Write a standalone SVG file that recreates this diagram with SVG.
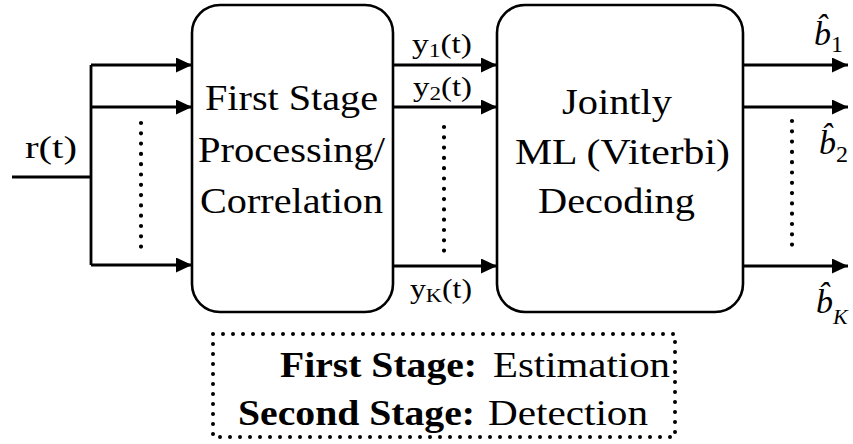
<svg xmlns="http://www.w3.org/2000/svg" width="853" height="444" viewBox="0 0 853 444">
  <style>
    .box { fill: #fff; stroke: #000; stroke-width: 2.6; }
    .wire { fill: none; stroke: #000; stroke-width: 2.8; }
    .dots { fill: none; stroke: #000; stroke-width: 4.2; stroke-linecap: round; stroke-dasharray: 0 10.3; }
    .frame { fill: none; stroke: #000; stroke-width: 4; stroke-linecap: round; stroke-dasharray: 0 10; }
    text { font-family: "Liberation Serif", "Times New Roman", Times, Tinos, "Nimbus Roman", "Nimbus Roman No9 L", FreeSerif, "Noto Serif", "DejaVu Serif", serif; fill: #000; }
    .big { font-size: 35px; }
    .sig { font-size: 27px; }
    .sub { font-size: 19px; }
    .bold { font-weight: bold; }
    .ital { font-style: italic; }
  </style>
  <defs>
    <marker id="arrow" viewBox="0 0 16 15" refX="16" refY="7.5" markerWidth="16" markerHeight="15" markerUnits="userSpaceOnUse" orient="auto">
      <path d="M0,0 L16,7.5 L0,15 Z" fill="#000"/>
    </marker>
  </defs>

  <!-- connectors -->
  <g id="connectors">
    <path class="wire" d="M12,177 H91 M91,65 V265"/>
    <path class="wire" d="M91,65 H192" marker-end="url(#arrow)"/>
    <path class="wire" d="M91,107 H192" marker-end="url(#arrow)"/>
    <path class="wire" d="M91,265 H192" marker-end="url(#arrow)"/>
    <path class="wire" d="M393,65 H497" marker-end="url(#arrow)"/>
    <path class="wire" d="M393,107 H497" marker-end="url(#arrow)"/>
    <path class="wire" d="M393,266 H497" marker-end="url(#arrow)"/>
    <path class="wire" d="M743,65 H848" marker-end="url(#arrow)"/>
    <path class="wire" d="M743,107 H848" marker-end="url(#arrow)"/>
    <path class="wire" d="M743,266 H848" marker-end="url(#arrow)"/>
    <path class="dots" d="M141,123 V247"/>
    <path class="dots" d="M444,127 V251"/>
    <path class="dots" d="M792,121 V245"/>
  </g>

  <!-- input signal -->
  <g id="input">
    <text x="25" y="158" textLength="52" lengthAdjust="spacingAndGlyphs" style="font-size:32px">r(t)</text>
  </g>

  <!-- first stage block -->
  <g id="first-stage">
    <rect class="box" x="192" y="5" width="201" height="307" rx="28" ry="28"/>
    <text class="big" x="205" y="110" textLength="173" lengthAdjust="spacingAndGlyphs">First Stage</text>
    <text class="big" x="198" y="162" textLength="187" lengthAdjust="spacingAndGlyphs">Processing/</text>
    <text class="big" x="200" y="213" textLength="183" lengthAdjust="spacingAndGlyphs">Correlation</text>
  </g>

  <!-- correlator outputs -->
  <g id="outputs-y">
    <text class="sig" x="412" y="53" textLength="60" lengthAdjust="spacingAndGlyphs">y<tspan class="sub" dy="4">1</tspan><tspan dy="-4">(t)</tspan></text>
    <text class="sig" x="413" y="96" textLength="59" lengthAdjust="spacingAndGlyphs">y<tspan class="sub" dy="4">2</tspan><tspan dy="-4">(t)</tspan></text>
    <text class="sig" x="410" y="298" textLength="62" lengthAdjust="spacingAndGlyphs">y<tspan class="sub" dy="4">K</tspan><tspan dy="-4">(t)</tspan></text>
  </g>

  <!-- decoder block -->
  <g id="decoder">
    <rect class="box" x="497" y="5" width="246" height="307" rx="28" ry="28"/>
    <text class="big" x="562" y="114" textLength="110" lengthAdjust="spacingAndGlyphs">Jointly</text>
    <text class="big" x="515" y="164" textLength="215" lengthAdjust="spacingAndGlyphs">ML (Viterbi)</text>
    <text class="big" x="538" y="213" textLength="157" lengthAdjust="spacingAndGlyphs">Decoding</text>
  </g>

  <!-- decisions (b with circumflex) -->
  <g id="decisions">
    <text x="814" y="45" style="font-size:34px"><tspan class="ital">b̂</tspan><tspan dy="7" style="font-size:24px">1</tspan></text>
    <text x="819" y="154" style="font-size:34px"><tspan class="ital">b̂</tspan><tspan dy="8" style="font-size:24px">2</tspan></text>
    <text x="816" y="313" style="font-size:34px"><tspan class="ital">b̂</tspan><tspan class="ital" dy="11" style="font-size:22px">K</tspan></text>
  </g>

  <!-- legend -->
  <g id="legend">
    <rect class="frame" x="213" y="334" width="462" height="103"/>
    <text class="bold" x="280" y="377" textLength="197" lengthAdjust="spacingAndGlyphs" style="font-size:36px">First Stage:</text>
    <text x="493" y="377" textLength="177" lengthAdjust="spacingAndGlyphs" style="font-size:36px">Estimation</text>
    <text class="bold" x="238" y="425" textLength="237" lengthAdjust="spacingAndGlyphs" style="font-size:36px">Second Stage:</text>
    <text x="488" y="425" textLength="160" lengthAdjust="spacingAndGlyphs" style="font-size:36px">Detection</text>
  </g>
</svg>
